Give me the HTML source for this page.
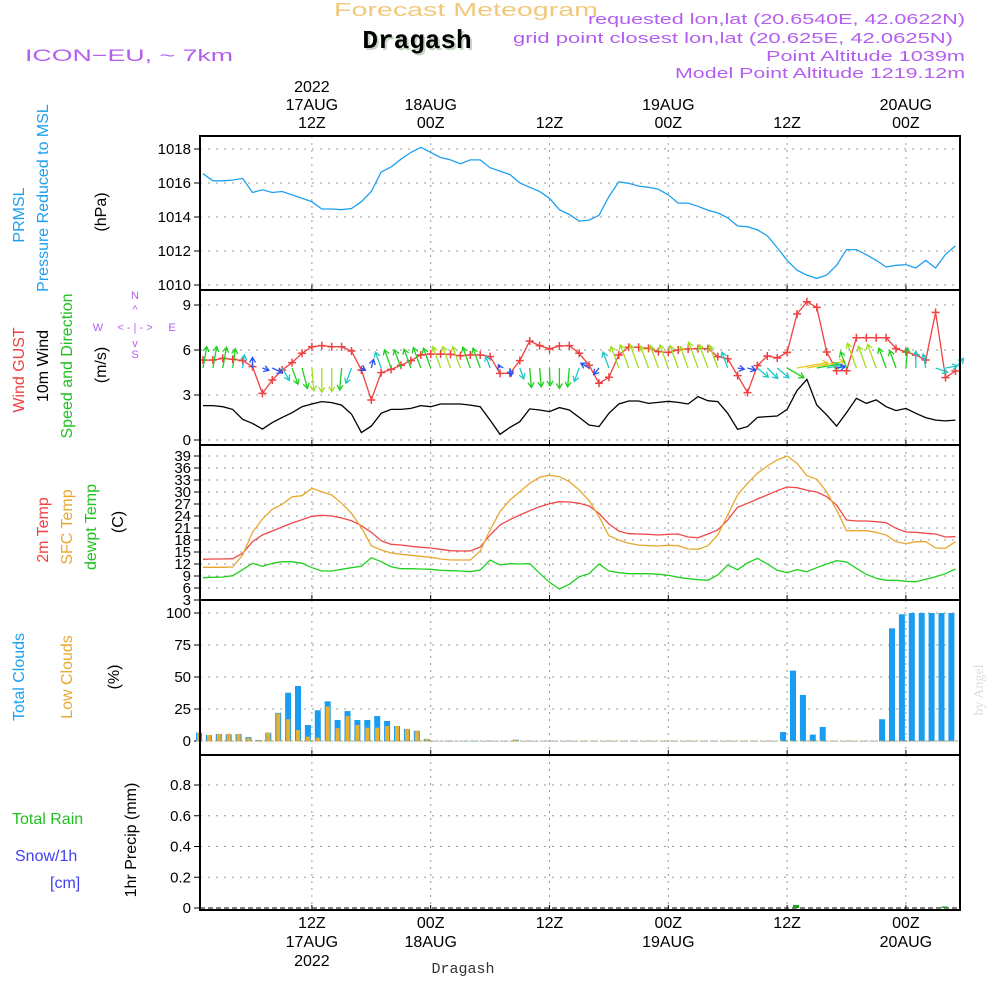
<!DOCTYPE html>
<html><head><meta charset="utf-8"><style>
html,body{margin:0;padding:0;background:#fff;}
svg{display:block;font-family:"Liberation Sans",sans-serif;}
</style></head><body>
<svg id="chart" width="1000" height="1000" viewBox="0 0 1000 1000">
<text x="334" y="16" font-size="18" fill="#f2c97c" textLength="264" lengthAdjust="spacingAndGlyphs">Forecast Meteogram</text>
<text x="419" y="50" font-size="26" font-weight="bold" font-family="Liberation Mono,monospace" fill="#c7d6c4" text-anchor="middle">Dragash</text>
<text x="417" y="48" font-size="26" font-weight="bold" font-family="Liberation Mono,monospace" fill="#000" text-anchor="middle">Dragash</text>
<text x="25" y="61" font-size="17" fill="#b45ef0" textLength="208" lengthAdjust="spacingAndGlyphs">ICON−EU, ~ 7km</text>
<text x="588" y="24" font-size="15" fill="#b45ef0" textLength="377" lengthAdjust="spacingAndGlyphs">requested lon,lat (20.6540E, 42.0622N)</text>
<text x="513" y="43" font-size="15" fill="#b45ef0" textLength="440" lengthAdjust="spacingAndGlyphs">grid point closest lon,lat (20.625E, 42.0625N)</text>
<text x="766" y="61" font-size="15" fill="#b45ef0" textLength="199" lengthAdjust="spacingAndGlyphs">Point Altitude 1039m</text>
<text x="675" y="78" font-size="15" fill="#b45ef0" textLength="290" lengthAdjust="spacingAndGlyphs">Model Point Altitude 1219.12m</text>
<text x="463" y="973" font-size="15" font-family="Liberation Mono,monospace" fill="#333" text-anchor="middle">Dragash</text>
<text transform="translate(983,690) rotate(-90)" font-size="14" font-family="Liberation Serif,serif" fill="#ddd" text-anchor="middle">by Angel</text>
<g id="labels" font-size="16"></g>
<g id="grid"></g>
<g id="series"></g>
<g id="frames"></g>
</svg>
<script>
const hours = 77; // hourly from 01Z 17AUG
const pressure=[1016.55,1016.13,1016.13,1016.17,1016.27,1015.44,1015.6,1015.44,1015.5,1015.3,1015.1,1014.9,1014.47,1014.47,1014.43,1014.5,1014.9,1015.5,1016.65,1016.94,1017.4,1017.8,1018.1,1017.8,1017.5,1017.36,1017.13,1017.36,1017.36,1016.9,1016.7,1016.5,1016.0,1015.75,1015.5,1015.1,1014.43,1014.15,1013.76,1013.82,1014.1,1015.2,1016.07,1015.98,1015.82,1015.75,1015.63,1015.3,1014.82,1014.82,1014.63,1014.4,1014.24,1013.95,1013.47,1013.43,1013.24,1012.9,1012.2,1011.45,1010.87,1010.58,1010.39,1010.58,1011.16,1012.08,1012.08,1011.78,1011.45,1011.06,1011.16,1011.2,1011.0,1011.45,1011.0,1011.8,1012.3];
const windZ=[797,797,800,808,838,850,867,848,832,818,800,792,785,788,795,822,878,858,820,808,808,805,797,800,792,792,792,795,800,840,883,862,845,807,810,815,803,810,832,855,860,820,792,783,783,790,787,784,787,792,770,782,785,820,868,860,832,830,828,808,752,718,795,825,858,818,775,790,780,800,812,805,820,833,840,843,840];
const wind=windZ.map(z=>+(9-(z-495)/45).toFixed(2));
const gustZ=[660,660,655,658,662,680,760,720,690,668,640,620,617,620,620,633,690,780,698,688,676,662,645,642,642,643,647,645,645,650,700,700,662,603,617,627,618,617,640,676,730,712,645,622,622,625,635,637,630,627,626,626,650,656,707,758,677,648,654,637,522,485,502,636,692,692,593,593,593,593,626,636,645,660,517,713,693];
const gust=gustZ.map(z=>+(9-(z-495)/45).toFixed(2));
const windDir=[10,10,10,8,8,0,110,115,150,160,165,175,180,180,185,200,120,15,-20,-20,-20,-20,-20,-20,-20,-20,-20,-20,-20,-20,-25,170,160,175,175,178,180,185,200,-60,220,-20,-20,-20,-20,-20,-20,-20,-20,-20,-20,-20,-20,-20,100,105,130,135,130,120,80,80,80,80,80,-20,-20,-20,-20,-20,-20,5,0,-10,110,80,40];
const t2Z=[343,342,342,341,325,290,270,258,246,234,224,214,211,213,219,227,242,262,287,298,300,304,307,309,313,317,318,318,306,270,240,224,210,197,185,176,170,171,175,183,205,237,258,266,267,268,270,268,267,276,278,267,255,225,187,175,162,150,137,126,128,136,141,155,180,225,228,228,230,233,250,261,262,265,267,276,275];
const sfcZ=[367,367,367,366,330,262,222,193,178,155,152,130,140,150,175,205,248,302,315,324,328,331,334,337,342,345,345,345,318,255,200,165,140,115,97,91,95,110,135,167,215,272,285,295,300,302,303,301,302,312,313,302,270,210,150,115,85,63,45,33,55,92,103,140,195,257,257,257,262,270,290,296,290,290,309,310,290];
const dewZ=[398,397,396,392,374,355,364,355,350,350,355,368,378,378,373,368,364,338,350,365,371,371,372,373,376,377,378,380,375,345,360,356,357,356,385,412,432,418,395,386,357,378,383,386,386,386,388,391,397,401,404,406,390,360,374,354,340,357,376,383,374,380,368,357,347,351,370,388,400,406,406,409,410,403,395,386,372];
const zT=z=>+(39-(z-33)/12).toFixed(2);
const temp2m=t2Z.map(zT), tempSfc=sfcZ.map(zT), dewpt=dewZ.map(zT);
const totalClouds=[6.5,4.7,5.5,5.2,5.5,3.1,0.8,6.5,22,37.7,43,12.5,24,31,16.4,23.4,16.4,16.4,19.5,15.6,11.7,9.4,8,1.6,0,0,0,0,0,0,0,0,1,0,0,0,0,0,0,0,0,0,0,0,0,0,0,0,0,0,0,0,0,0,0,0,0,0,0,7,55,36,5,11,0,0,0,0,0,17,88,99,100,100,100,100,100];
const lowClouds=[6.5,4.7,5.5,5.7,5.5,2.6,0.5,6.5,21.5,17,8.6,3.4,2.6,27,10,19.5,12.5,10.4,10.4,11.7,11.7,9.4,8,1.6,0,0,0,0,0,0,0,0,0.8,0,0,0,0,0,0,0,0,0,0,0,0,0,0,0,0,0,0,0,0,0,0,0,0,0,0,0,0,0,0,0,0,0,0,0,0,0,0,0,0,0,0,0,0];
const rain=new Array(77).fill(0); rain[60]=0.02; rain[75]=0.01;
const timeTicks=[{h:11,top:["2022","17AUG","12Z"],bot:["12Z","17AUG","2022"]},{h:23,top:["18AUG","00Z"],bot:["00Z","18AUG"]},{h:35,top:["12Z"],bot:["12Z"]},{h:47,top:["19AUG","00Z"],bot:["00Z","19AUG"]},{h:59,top:["12Z"],bot:["12Z"]},{h:71,top:["20AUG","00Z"],bot:["00Z","20AUG"]}];
const pTicks=[1010,1012,1014,1016,1018], wTicks=[0,3,6,9], tTicks=[3,6,9,12,15,18,21,24,27,30,33,36,39], cTicks=[0,25,50,75,100], rTicks=[0,0.2,0.4,0.6,0.8];

const NS="http://www.w3.org/2000/svg";
const X=i=>203+i*9.9;
const yP=v=>285-(v-1010)*17, yW=v=>440-v*15, yT=v=>588-(v-6)*4, yC=v=>741-v*1.28, yR=v=>908-v*153.75;
const R=960;
function mk(tag,attrs,parent){const e=document.createElementNS(NS,tag);for(const k in attrs)e.setAttribute(k,attrs[k]);parent.appendChild(e);return e;}
const grid=document.getElementById('grid'), ser=document.getElementById('series'), fr=document.getElementById('frames'), lab=document.getElementById('labels');
const panels=[{y0:136,y1:290,ticks:pTicks,f:yP,n:'pressure'},{y0:290,y1:445,ticks:wTicks,f:yW,n:'wind'},{y0:445,y1:600,ticks:tTicks,f:yT,n:'temp'},{y0:600,y1:755,ticks:cTicks,f:yC,n:'clouds'},{y0:755,y1:910,ticks:rTicks,f:yR,n:'precip'}];
panels.forEach(p=>{
  timeTicks.forEach(t=>{const l=mk('line',{x1:X(t.h),x2:X(t.h),y1:p.y0,y2:p.y1,stroke:'#999','stroke-dasharray':'2,5'},grid);
    
    
    mk('line',{x1:X(t.h),x2:X(t.h),y1:p.y1-5,y2:p.y1,stroke:'#000'},grid);});
  p.ticks.forEach(v=>{const y=p.f(v);
    const g=mk('line',{x1:200,x2:R,y1:y,y2:y,stroke:'#999','stroke-dasharray':'2,6'},grid);
    
    
    mk('line',{x1:194,x2:200,y1:y,y2:y,stroke:'#000'},grid);
    const t=mk('text',{x:191,y:y+5,'text-anchor':'end','font-size':15,fill:'#000'},grid);
    t.textContent=(p.n==='precip'&&v!==0)?v.toFixed(1):String(v);
    
    });
  const r=mk('rect',{x:200,y:p.y0,width:R-200,height:p.y1-p.y0,fill:'none',stroke:'#000','stroke-width':2},fr);
  
  
});
timeTicks.forEach(t=>{
  const n=t.top.length;
  t.top.forEach((s,k)=>{const e=mk('text',{x:X(t.h),y:128-(n-1-k)*18,'text-anchor':'middle','font-size':16,fill:'#000'},lab);e.textContent=s;
    
    });
  t.bot.forEach((s,k)=>{const e=mk('text',{x:X(t.h),y:928+k*19,'text-anchor':'middle','font-size':16,fill:'#000'},lab);e.textContent=s;
    
    });
});
function path(arr,f,color,name,w){const d=arr.map((v,i)=>(i?'L':'M')+X(i).toFixed(1)+','+f(v).toFixed(1)).join('');
  const p=mk('path',{d:d,fill:'none',stroke:color,'stroke-width':w||1.3},ser);
  
  }
path(pressure,yP,'#1ea0f0','pressure-line');
path(wind,yW,'#000','wind-speed-line');
path(gust,yW,'#f04040','wind-gust-line');
gust.forEach((v,i)=>{const x=X(i),y=yW(v);const g=mk('path',{d:`M${x-4},${y}H${x+4}M${x},${y-4}V${y+4}`,stroke:'#f04040','stroke-width':1.5},ser);
  
  });
function wcol(s){return s<1.2?'#2850f0':s<1.8?'#20c8c8':s<2.4?'#20d020':s<3?'#a0e020':'#e8c820';}
windDir.forEach((d,i)=>{const s=wind[i],len=Math.min(s*9.5,60),a=d*Math.PI/180;const x0=X(i),y0=368;
  const x1=x0+Math.sin(a)*len,y1=y0-Math.cos(a)*len;const c=wcol(s);
  const hx=Math.sin(a),hy=-Math.cos(a);const px=-hy,py=hx;
  const d2=`M${x0},${y0}L${x1},${y1}M${x1-hx*5+px*3},${y1-hy*5+py*3}L${x1},${y1}L${x1-hx*5-px*3},${y1-hy*5-py*3}`;
  const p=mk('path',{d:d2,stroke:c,'stroke-width':1.3,fill:'none'},ser);
  
  });
path(temp2m,yT,'#f04848','temp-2m-line');
path(tempSfc,yT,'#e8a830','temp-sfc-line');
path(dewpt,yT,'#20d020','dewpoint-line');
totalClouds.forEach((v,i)=>{const r=mk('rect',{x:X(i)-7,y:yC(v),width:6,height:741-yC(v)+0.5,fill:'#1a9cf0'},ser);
  
  });
lowClouds.forEach((v,i)=>{if(v<=0)return;const r=mk('rect',{x:X(i)-6,y:yC(v),width:4,height:741-yC(v)+0.5,fill:'#e8b030'},ser);
  
  });
mk('line',{x1:200,x2:R,y1:741,y2:741,stroke:'#b0a070','stroke-dasharray':'3,2'},ser);
mk('line',{x1:200,x2:R,y1:908,y2:908,stroke:'#000','stroke-dasharray':'5,3'},ser);
rain.forEach((v,i)=>{if(v<=0)return;const r=mk('rect',{x:X(i)-4,y:yR(v),width:6,height:908-yR(v),fill:'#20a020'},ser);
  
  });
const vl=[["PRMSL",18,215,'#1ea0f0'],["Pressure Reduced to MSL",42,198,'#1ea0f0'],["(hPa)",100,212,'#000'],
["Wind GUST",18,370,'#f04040'],["10m Wind",42,366,'#000'],["Speed and Direction",66,366,'#20c020'],["(m/s)",100,365,'#000'],
["2m Temp",42,530,'#f04040'],["SFC Temp",66,527,'#e8a830'],["dewpt Temp",90,527,'#20c020'],["(C)",117,522,'#000'],
["Total Clouds",18,677,'#1ea0f0'],["Low Clouds",66,677,'#e8a830'],["(%)",113,677,'#000'],["1hr Precip (mm)",130,840,'#000']];
vl.forEach(([s,x,y,c])=>{const e=mk('text',{transform:`translate(${x+6},${y}) rotate(-90)`,'text-anchor':'middle','font-size':16,fill:c},lab);e.textContent=s;
  
  });
[["Total  Rain",12,824,'#20c020'],["Snow/1h",15,861,'#4040f0'],["[cm]",50,888,'#4040f0']].forEach(([s,x,y,c])=>{const e=mk('text',{x:x,y:y,'font-size':16,fill:c,'xml:space':'preserve'},lab);e.textContent=s;
  
  });
const cg=mk('g',{fill:'#b45ef0','font-size':11,'text-anchor':'middle'},lab);


[["N",135,299],["S",135,358],["W",98,331],["E",172,331],["< - | - >",135,331],["^",135,313],["v",135,347]].forEach(([s,x,y])=>{const e=mk('text',{x:x,y:y,'xml:space':'preserve'},cg);e.textContent=s;});
</script>
</body></html>
